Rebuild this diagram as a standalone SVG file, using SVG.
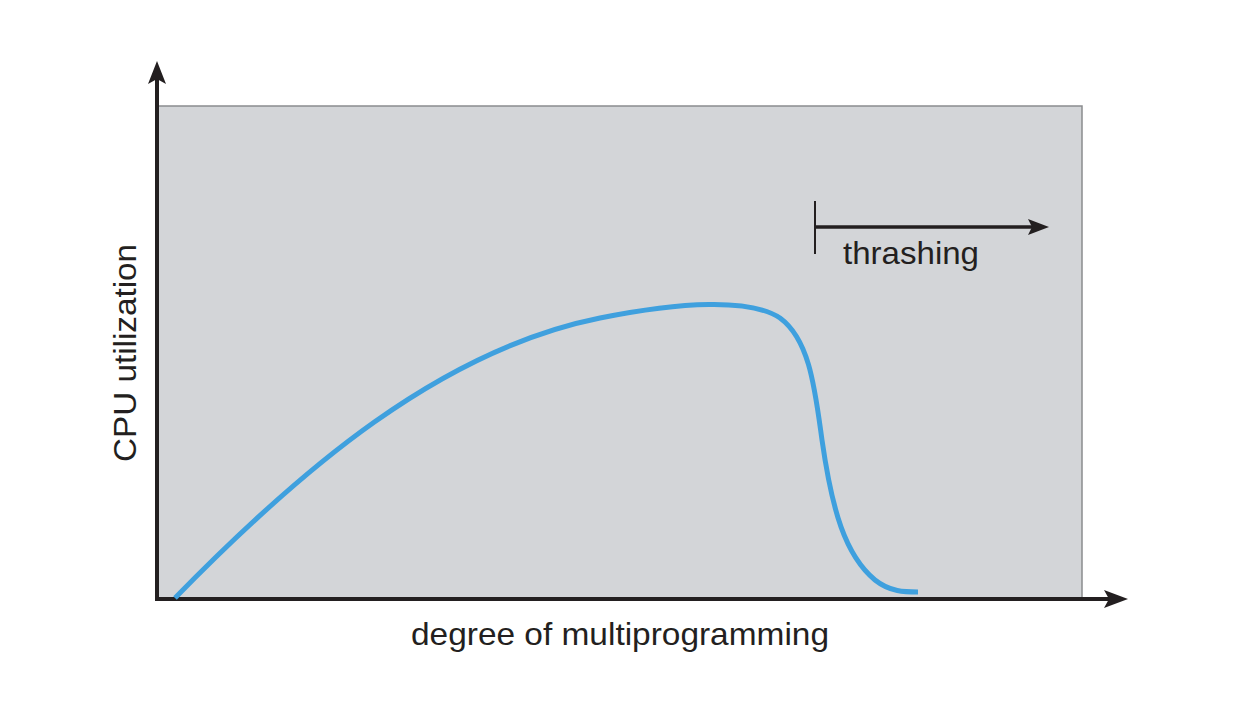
<svg xmlns="http://www.w3.org/2000/svg" width="1240" height="722" viewBox="0 0 1240 722">
<style>
.lbl{font-family:"Liberation Sans",Arial,sans-serif;fill:#231f20;font-size:32px}
.ax{stroke:#231f20;stroke-width:4;fill:none}
</style>
<rect width="1240" height="722" fill="#ffffff"/>
<g id="plot">
<rect x="158" y="106" width="924" height="493" fill="#d3d5d8" stroke="#8a8c8e" stroke-width="1.5"/>
</g>
<g id="connectors">
<line class="ax" x1="157" y1="601" x2="157" y2="68"/>
<path d="M157,61 L166,84 L157,79 L148,84 Z" fill="#231f20"/>
<line class="ax" x1="155" y1="599" x2="1120" y2="599"/>
<path d="M1128,599 L1104,608 L1109,599 L1104,590 Z" fill="#231f20"/>
<line x1="815" y1="201" x2="815" y2="254" stroke="#231f20" stroke-width="2"/>
<line x1="815" y1="227" x2="1035" y2="227" stroke="#231f20" stroke-width="3.5"/>
<path d="M1049,227 L1028,235 L1032,227 L1028,219 Z" fill="#231f20"/>
</g>
<g id="curve">
<path d="M175,598 C300,470 440,350 600,318 C680,302 750,298 780,318 C810,340 815,390 822,440 C832,510 845,555 875,580 C890,592 905,592 918,592" fill="none" stroke="#3fa0de" stroke-width="5"/>
</g>
<g id="labels">
<text class="lbl" x="843" y="264" textLength="136" lengthAdjust="spacingAndGlyphs">thrashing</text>
<text class="lbl" x="411" y="645" textLength="418" lengthAdjust="spacingAndGlyphs">degree of multiprogramming</text>
<text class="lbl" transform="translate(136,462) rotate(-90)" textLength="218" lengthAdjust="spacingAndGlyphs">CPU utilization</text>
</g>
</svg>
